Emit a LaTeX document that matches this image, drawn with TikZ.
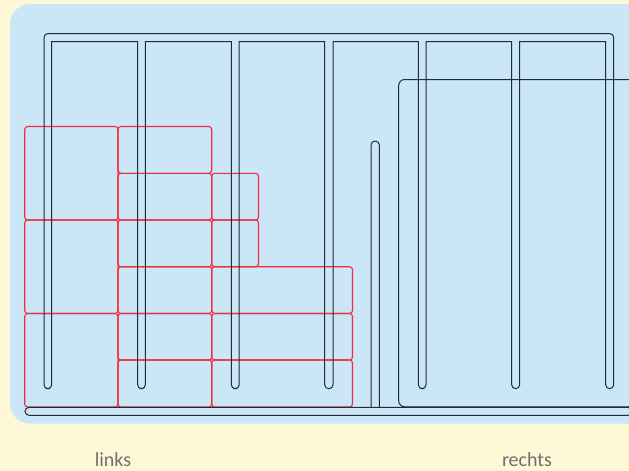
\documentclass[tikz,border=0pt]{standalone}
\usepackage{fontspec}
\setmainfont{Carlito}
\definecolor{paper}{HTML}{FFF8D6}
\definecolor{panel}{HTML}{CAE6F7}
\definecolor{ink}{HTML}{1F2D36}
\definecolor{redline}{HTML}{EE2E3A}
\definecolor{labelgray}{HTML}{707070}
\tikzset{
  inkline/.style={draw=ink,line width=1pt},
  redbox/.style={draw=redline,line width=1.1pt,rounded corners=3pt},
  sidelabel/.style={text=labelgray,font=\fontsize{20}{24}\selectfont,anchor=base,inner sep=0pt}
}
\newcommand{\combtooth}[2]{%
  -- (#1,60) [sharp corners] -- (#1,41.7) -- (#2,41.7) -- (#2,60) [rounded corners=4pt] -- (#2,388.7)}
\newcommand{\redcell}[4]{\draw[redbox] (#1,#2) rectangle (#3,#4);}
\begin{document}
\begin{tikzpicture}[x=1pt,y=-1pt]
\useasboundingbox (0,0) rectangle (629,471);
\fill[paper] (0,0) rectangle (629,471);
\fill[panel,rounded corners=20pt] (10,4) rectangle (680,423.5);
\clip (0,0) rectangle (629,471);
% red cells
\redcell{24.7}{126.5}{118}{220}
\redcell{24.7}{220}{118}{313.5}
\redcell{24.7}{313.5}{118}{407}
\redcell{118}{126.5}{211.7}{173.3}
\redcell{118}{173.3}{211.7}{220}
\redcell{118}{220}{211.7}{266.7}
\redcell{118}{266.7}{211.7}{313.5}
\redcell{118}{313.5}{211.7}{360}
\redcell{118}{360}{211.7}{407}
\redcell{211.7}{173.3}{258.5}{220}
\redcell{211.7}{220}{258.5}{266.7}
\redcell{211.7}{266.7}{352.5}{313.5}
\redcell{211.7}{313.5}{352.5}{360}
\redcell{211.7}{360}{352.5}{407}
% comb
\draw[inkline] (51.7,60) [rounded corners=4pt] -- (51.7,388.7) -- (44,388.7) -- (44,33.5)
  -- (613.7,33.5) -- (613.7,388.7) -- (605.7,388.7)
  \combtooth{605.7}{519.7} -- (511.7,388.7)
  \combtooth{511.7}{426} -- (418.3,388.7)
  \combtooth{418.3}{333} -- (324.7,388.7)
  \combtooth{324.7}{239.2} -- (231.3,388.7)
  \combtooth{231.3}{145.4} -- (137.7,388.7)
  \combtooth{137.7}{51.7} -- cycle;
% bottom bar, middle bar and right frame
\draw[inkline,rounded corners=4pt] (25,407.3) rectangle (632,415.3);
\draw[inkline,rounded corners=4pt] (371,407.3) -- (371,141) -- (379.3,141) -- (379.3,407.3);
\draw[inkline,rounded corners=6pt] (398.7,79.5) rectangle (634,406.8);
% labels
\node[sidelabel] (links) at (113,466.5) {links};
\node[sidelabel] (rechts) at (527,466.5) {rechts};
\end{tikzpicture}
\end{document}
